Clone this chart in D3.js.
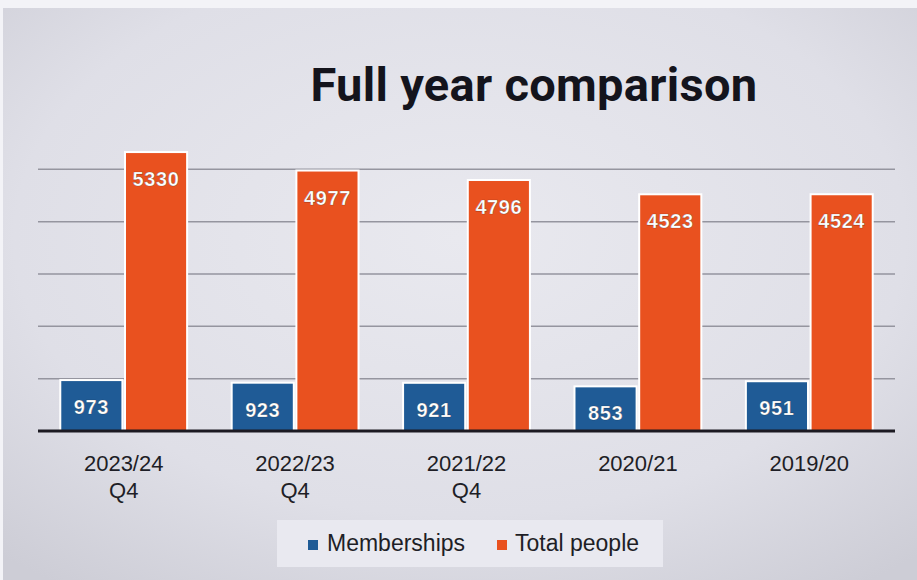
<!DOCTYPE html>
<html>
<head>
<meta charset="utf-8">
<script src="https://cdn.jsdelivr.net/npm/d3@7"></script>
<style>
  html, body { margin: 0; padding: 0; background: #f2f2f6; }
  svg { display: block; }
</style>
</head>
<body>
<svg id="chart" width="917" height="580"></svg>
<script>
const categories = [['2023/24', 'Q4'], ['2022/23', 'Q4'], ['2021/22', 'Q4'], ['2020/21'], ['2019/20']];
const memberships = [973, 923, 921, 853, 951];
const totalPeople = [5330, 4977, 4796, 4523, 4524];
const seriesNames = ['Memberships', 'Total people'];
const seriesColors = ['#1f5b96', '#e9511f'];
const gridTicks = [1000, 2000, 3000, 4000, 5000];

const svg = d3.select('#chart');
const W = 917, H = 580;

// фон с лёгкой виньеткой, как на фото
const defs = svg.append('defs');
const grad = defs.append('radialGradient').attr('id', 'bg')
  .attr('cx', '50%').attr('cy', '40%').attr('r', '75%');
grad.append('stop').attr('offset', '0%').attr('stop-color', '#e9e9ef');
grad.append('stop').attr('offset', '65%').attr('stop-color', '#dfdfe7');
grad.append('stop').attr('offset', '100%').attr('stop-color', '#cdcdd6');

svg.append('rect').attr('width', W).attr('height', H).attr('fill', '#f3f3f7');
svg.append('rect').attr('x', 3).attr('y', 8).attr('width', W - 3).attr('height', H - 8)
  .attr('fill', 'url(#bg)');

const margin = { left: 38, right: 22, top: 117, bottom: 149 };
const x0 = d3.scaleBand()
  .domain(d3.range(categories.length))
  .range([margin.left, W - margin.right])
  .paddingInner(0.26)
  .paddingOuter(0.13);
const x1 = d3.scaleBand()
  .domain([0, 1])
  .range([0, x0.bandwidth()])
  .paddingInner(0.04);
const y = d3.scaleLinear().domain([0, 6000]).range([H - margin.bottom, margin.top]);

// title
svg.append('text')
  .attr('x', 534).attr('y', 101)
  .attr('text-anchor', 'middle')
  .attr('font-family', 'Roboto, sans-serif')
  .attr('font-weight', 700)
  .attr('font-size', 47)
  .attr('letter-spacing', 0.3)
  .attr('fill', '#14141c')
  .text('Full year comparison');

// gridlines
svg.append('g')
  .selectAll('line')
  .data(gridTicks)
  .join('line')
    .attr('x1', margin.left).attr('x2', W - margin.right)
    .attr('y1', d => y(d)).attr('y2', d => y(d))
    .attr('stroke', '#95959f')
    .attr('stroke-width', 1.5);

const rows = categories.map((c, i) => ({ i, values: [memberships[i], totalPeople[i]] }));

const groups = svg.append('g')
  .selectAll('g')
  .data(rows)
  .join('g')
    .attr('transform', d => `translate(${x0(d.i)},0)`);

groups.selectAll('rect')
  .data(d => d.values.map((v, s) => ({ v, s })))
  .join('rect')
    .attr('x', d => x1(d.s))
    .attr('y', d => y(d.v))
    .attr('width', x1.bandwidth())
    .attr('height', d => y(0) - y(d.v))
    .attr('fill', d => seriesColors[d.s])
    .attr('stroke', '#ffffff')
    .attr('stroke-width', 2);

groups.selectAll('text.val')
  .data(d => d.values.map((v, s) => ({ v, s })))
  .join('text')
    .attr('class', 'val')
    .attr('x', d => x1(d.s) + x1.bandwidth() / 2)
    .attr('y', d => y(d.v) + 34)
    .attr('text-anchor', 'middle')
    .attr('font-family', 'Liberation Sans, Arial, sans-serif')
    .attr('font-weight', 700)
    .attr('font-size', 20)
    .attr('letter-spacing', 0.6)
    .attr('fill', '#ffffff')
    .attr('stroke', 'rgba(0,0,0,0.35)')
    .attr('stroke-width', 0.6)
    .text(d => d.v);

// baseline
svg.append('line')
  .attr('x1', margin.left).attr('x2', W - margin.right)
  .attr('y1', y(0)).attr('y2', y(0))
  .attr('stroke', '#1c1a22')
  .attr('stroke-width', 3);

// category labels
const lab = svg.append('g')
  .selectAll('text')
  .data(categories)
  .join('text')
    .attr('x', (d, i) => x0(i) + x0.bandwidth() / 2)
    .attr('y', 471)
    .attr('text-anchor', 'middle')
    .attr('font-family', 'Liberation Sans, Arial, sans-serif')
    .attr('font-size', 22)
    .attr('fill', '#1e1e26');
lab.selectAll('tspan')
  .data(d => d)
  .join('tspan')
    .attr('x', function () { return this.parentNode.getAttribute('x'); })
    .attr('dy', (d, j) => j === 0 ? 0 : 27)
    .text(d => d);

// legend
svg.append('rect')
  .attr('x', 277).attr('y', 520).attr('width', 386).attr('height', 47)
  .attr('fill', '#e9e9f0');

const legend = svg.append('g')
  .selectAll('g')
  .data(seriesNames)
  .join('g')
    .attr('transform', (d, i) => `translate(${[308, 497][i]},0)`);
legend.append('rect')
  .attr('x', 0).attr('y', 540).attr('width', 10).attr('height', 10)
  .attr('fill', (d, i) => seriesColors[i]);
legend.append('text')
  .attr('x', (d, i) => [19, 18][i]).attr('y', 551)
  .attr('font-family', 'Liberation Sans, Arial, sans-serif')
  .attr('font-size', 23)
  .attr('fill', '#1e1e26')
  .text(d => d);
</script>
</body>
</html>
